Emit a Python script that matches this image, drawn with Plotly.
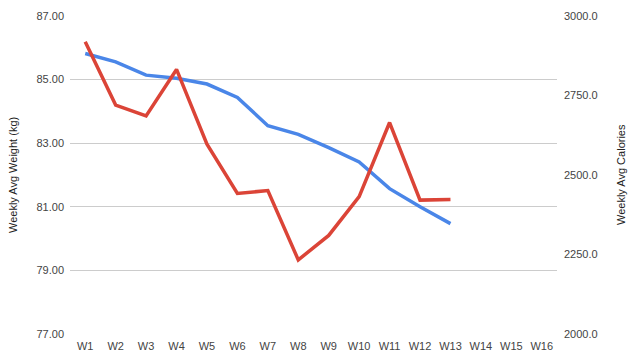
import plotly.graph_objects as go

weeks = ["W1", "W2", "W3", "W4", "W5", "W6", "W7", "W8", "W9", "W10", "W11", "W12", "W13", "W14", "W15", "W16"]
weight_kg = [85.82, 85.56, 85.14, 85.04, 84.86, 84.44, 83.55, 83.28, 82.86, 82.41, 81.57, 81.0, 80.47]
calories = [2919, 2720, 2686, 2832, 2597, 2442, 2451, 2233, 2310, 2432, 2665, 2421, 2423]

font_family = "Arial, Liberation Sans, sans-serif"
tick_font = dict(family=font_family, size=11, color="#444444")

fig = go.Figure()
fig.add_trace(go.Scatter(x=weeks[:len(weight_kg)], y=weight_kg, mode="lines",
                         line=dict(color="#4a86e8", width=3.5), yaxis="y", showlegend=False))
fig.add_trace(go.Scatter(x=weeks[:len(calories)], y=calories, mode="lines",
                         line=dict(color="#db4437", width=3.5), yaxis="y2", showlegend=False))

fig.update_layout(
    width=635, height=360,
    margin=dict(l=70, r=78, t=16, b=26),
    paper_bgcolor="white", plot_bgcolor="white",
    xaxis=dict(type="category", categoryorder="array", categoryarray=weeks,
               range=[-0.5, 15.5], showgrid=False, showline=False, zeroline=False,
               tickfont=tick_font, ticks="", ticklabelstandoff=4, automargin=False),
    yaxis=dict(range=[77, 87], dtick=2, tick0=77, tickformat=".2f",
               showgrid=True, gridcolor="#cccccc", gridwidth=1, zeroline=False,
               showline=False, tickfont=tick_font, ticks="", ticklabelstandoff=5,
               automargin=False),
    yaxis2=dict(range=[2000, 3000], dtick=250, tick0=2000, tickformat=".1f",
                overlaying="y", side="right", showgrid=False, zeroline=False,
                showline=False, tickfont=tick_font, ticks="", ticklabelstandoff=6,
                automargin=False),
    annotations=[
        dict(text="Weekly Avg Weight (kg)", xref="paper", yref="paper", x=0, y=0.5,
             xanchor="center", yanchor="middle", xshift=-57, textangle=-90,
             showarrow=False, font=dict(family=font_family, size=11, color="#222222")),
        dict(text="Weekly Avg Calories", xref="paper", yref="paper", x=1, y=0.5,
             xanchor="center", yanchor="middle", xshift=64, textangle=-90,
             showarrow=False, font=dict(family=font_family, size=11, color="#222222")),
    ],
)

fig.write_html("out.html", config={"displayModeBar": False},
               post_script="document.body.style.margin='0';")
